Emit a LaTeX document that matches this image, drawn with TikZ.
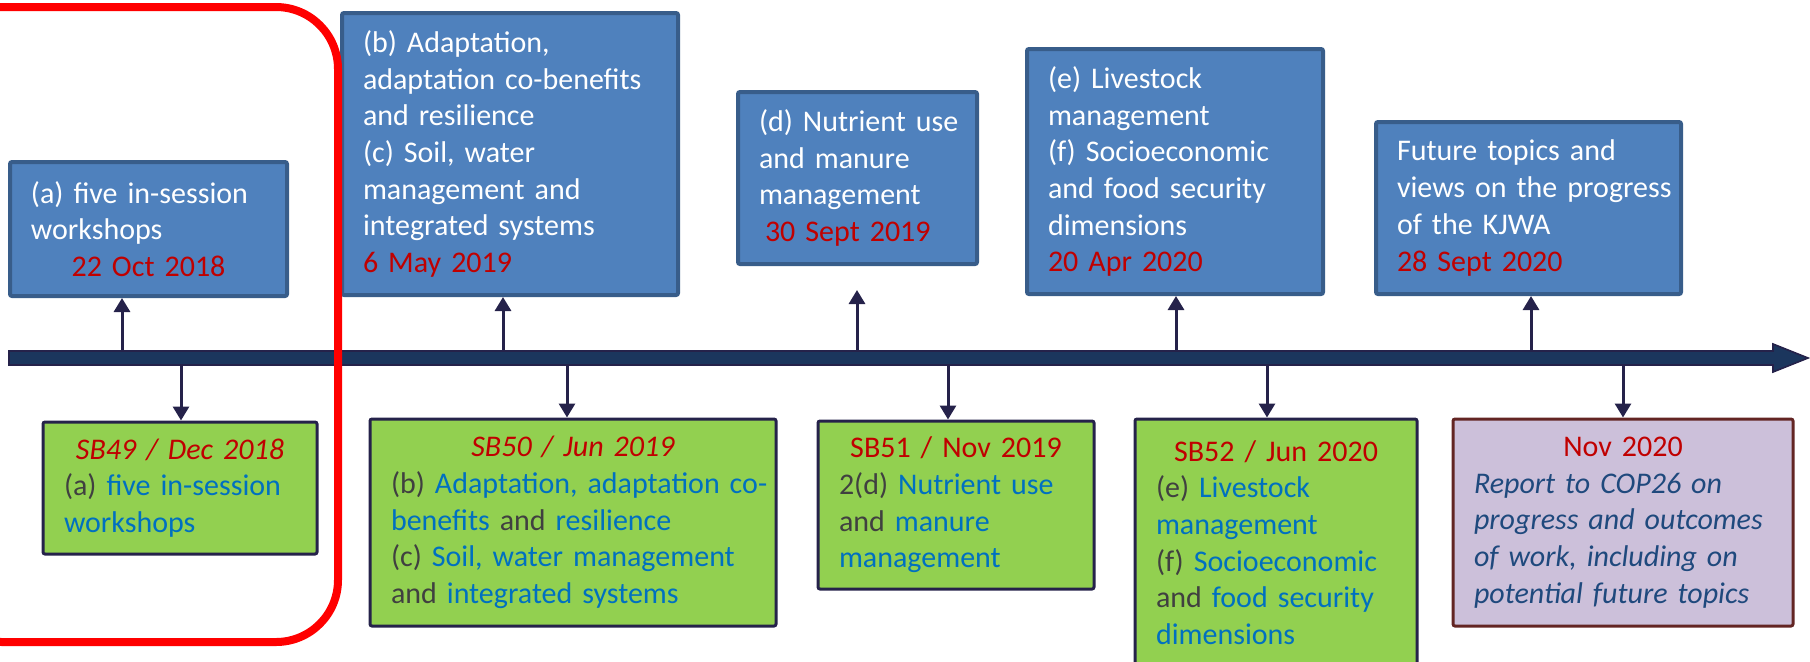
\documentclass[tikz,border=0pt]{standalone}
\usepackage{fontspec}
\setmainfont{Carlito}
\usetikzlibrary{arrows.meta}
\definecolor{boxblue}{HTML}{4F81BD}
\definecolor{boxblueline}{HTML}{385D8A}
\definecolor{datered}{HTML}{C00000}
\definecolor{boxgreen}{HTML}{92D050}
\definecolor{navyline}{HTML}{25224A}
\definecolor{topicblue}{HTML}{0070C0}
\definecolor{labelgray}{HTML}{404040}
\definecolor{boxlilac}{HTML}{CCC0DA}
\definecolor{lilacline}{HTML}{632523}
\definecolor{reportblue}{HTML}{1F497D}
\definecolor{axisfill}{HTML}{1B365D}
\definecolor{framered}{HTML}{FF0000}
\newcommand\dt[1]{\textcolor{datered}{#1}}
\newcommand\tp[1]{\textcolor{topicblue}{#1}}
\newcommand\ctr[1]{\makebox[\hsize][c]{#1}}
\newcommand\gp{\kern5pt}
\newcommand\nobreaks{\hyphenpenalty=10000\relax\exhyphenpenalty=10000\relax\hbadness=10000\relax\hfuzz=20pt\relax}
\begin{document}
\begin{tikzpicture}[x=0.5pt,y=-0.5pt,
  every node/.style={font=\fontsize{15}{18.35}\selectfont, execute at begin node=\nobreaks, align=left, inner xsep=10.5pt, inner ysep=2pt},
  bluebox/.style={draw=boxblueline, fill=boxblue, line width=2pt, rounded corners=1pt, text=white},
  greenbox/.style={draw=navyline, fill=boxgreen, line width=1.5pt, rounded corners=1pt, text=labelgray},
  lilacbox/.style={draw=lilacline, fill=boxlilac, line width=1.5pt, rounded corners=1pt, text=reportblue},
  conn/.style={draw=navyline, line width=1.5pt, -{Triangle[width=8pt,length=7pt]}},
  axis/.style={fill=axisfill, draw=navyline, line width=0.8pt},
  frame/.style={draw=framered, line width=4pt, rounded corners=31pt}
]
\useasboundingbox (0,0) rectangle (1810,661);
\clip (0,0) rectangle (1810,661);

% timeline
\draw[axis] (9,351) -- (1773,351) -- (1773,344) -- (1808,358) -- (1773,372) -- (1773,365) -- (9,365) -- cycle;

% upper boxes
\node[bluebox, text width=117.5pt, minimum height=67pt] (A) at (148.5,229)
  {(a)~five~in-session\\workshops\\\ctr{\dt{22 Oct 2018}}};
\node[bluebox, text width=147pt, minimum height=141pt] (B) at (510,154)
  {(b)~Adaptation,\\adaptation~co-benefits\\and~resilience\\(c)~Soil,~water\\management~and\\integrated~systems\\\dt{6~May~2019}};
\node[bluebox, text width=98.5pt, minimum height=86pt] (D) at (857.5,178)
  {(d)~Nutrient~use\\and~manure\\management\\\hspace*{3pt}\dt{30~Sept~2019}};
\node[bluebox, text width=127pt, minimum height=122.5pt] (E) at (1175,171.5)
  {(e)~Livestock\\management\\(f)~Socioeconomic\\and~food~security\\dimensions\\\dt{20~Apr~2020}};
\node[bluebox, text width=131.5pt, minimum height=86pt] (F) at (1528.5,208)
  {Future~topics~and\\views~on~the~progress\\of~the~KJWA\\\dt{28~Sept~2020}};

% lower boxes
\node[greenbox, text width=116pt, minimum height=66pt] (G49) at (180,488)
  {\ctr{\dt{\itshape SB49 / Dec 2018}}\\(a)\gp\tp{five~in-session}\\\tp{workshops}};
\node[greenbox, text width=182pt, minimum height=103.5pt] (G50) at (573,522.5)
  {\ctr{\dt{\itshape SB50 / Jun 2019}}\\(b)\gp\tp{Adaptation,~adaptation~co-}\\\tp{benefits}~and~\tp{resilience}\\(c)\gp\tp{Soil,~water~management}\\and~\tp{integrated~systems}};
\node[greenbox, text width=117pt, minimum height=84pt] (G51) at (956,505)
  {\ctr{\dt{SB51 / Nov 2019}}\\2(d)\gp\tp{Nutrient~use}\\and~\tp{manure}\\\tp{management}};
\node[greenbox, text width=120pt, minimum height=123.5pt] (G52) at (1276,542.5)
  {\ctr{\dt{SB52 / Jun 2020}}\\(e)\gp\tp{Livestock}\\\tp{management}\\(f)\gp\tp{Socioeconomic}\\and~\tp{food~security}\\\tp{dimensions}};
\node[lilacbox, text width=149pt, minimum height=103.5pt] (P) at (1623,522.5)
  {\ctr{\dt{Nov 2020}}\\\itshape Report~to~COP26~on\\progress~and~outcomes\\of~work,~including~on\\potential~future~topics};

% timeline anchor points
\coordinate (uA) at (122,351);
\coordinate (uB) at (503,351);
\coordinate (uD) at (857,351);
\coordinate (tipD) at (857,290);
\coordinate (uE) at (1176,351);
\coordinate (uF) at (1531,351);
\coordinate (d49) at (181,365);
\coordinate (d50) at (567,365);
\coordinate (d51) at (948,365);
\coordinate (d52) at (1267,365);
\coordinate (dP) at (1623,365);

% connectors
\draw[conn] (uA) -- (uA |- A.south);
\draw[conn] (uB) -- (uB |- B.south);
\draw[conn] (uD) -- (tipD);
\draw[conn] (uE) -- (uE |- E.south);
\draw[conn] (uF) -- (uF |- F.south);
\draw[conn] (d49) -- (d49 |- G49.north);
\draw[conn] (d50) -- (d50 |- G50.north);
\draw[conn] (d51) -- (d51 |- G51.north);
\draw[conn] (d52) -- (d52 |- G52.north);
\draw[conn] (dP) -- (dP |- P.north);

% red frame
\draw[frame] (-60,7) rectangle (338,642);
\end{tikzpicture}
\end{document}
